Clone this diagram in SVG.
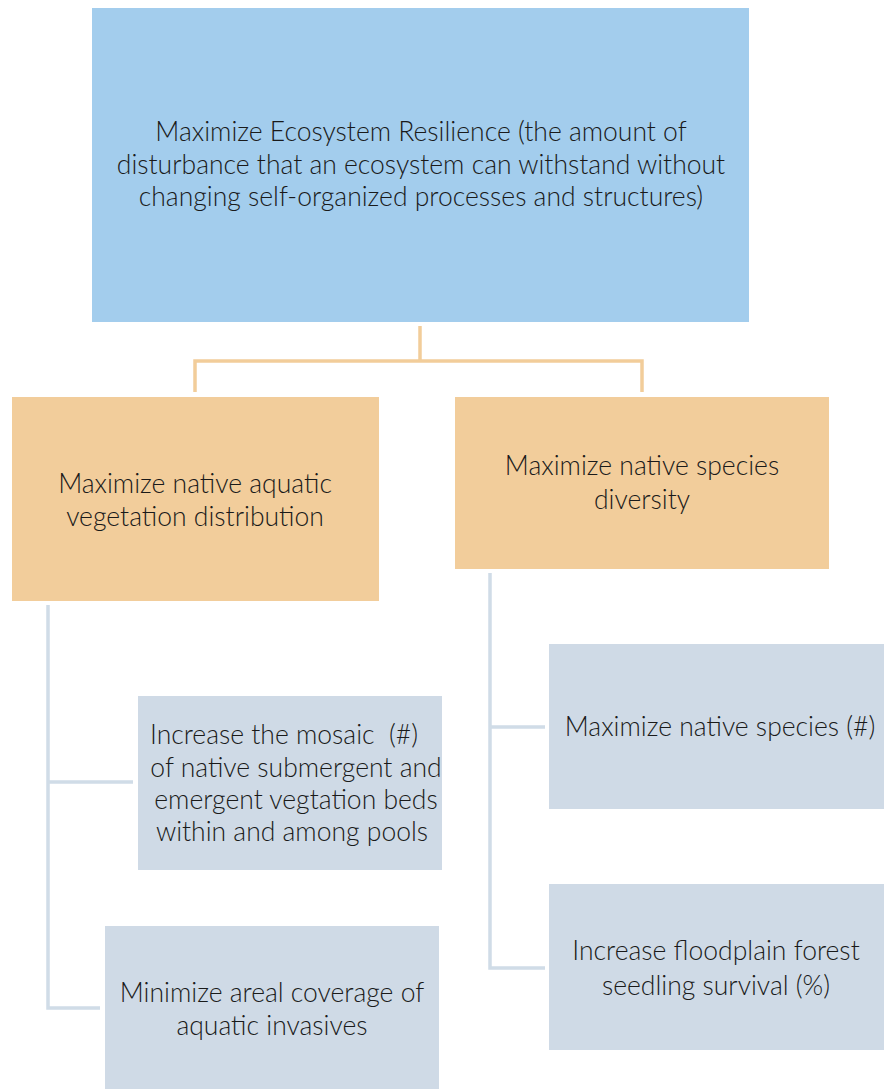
<svg xmlns="http://www.w3.org/2000/svg" width="884" height="1089" viewBox="0 0 884 1089">
<style>
.t{font-family:Lato,"Open Sans","Liberation Sans",sans-serif;font-size:26.5px;font-weight:300;fill:#1a1a1a;text-anchor:middle;white-space:pre}
.blue{fill:#A3CDED}
.org{fill:#F2CD9B}
.gry{fill:#CFDAE6}
.co{fill:none;stroke:#F2CD9A;stroke-width:3.5}
.cg{fill:none;stroke:#D0DCE7;stroke-width:3.5}
</style>
<rect width="884" height="1089" fill="#fff"/>
<g id="connectors">
<path class="co" d="M420,326V361M195,392V361H642V392"/>
<path class="cg" d="M48,605V1008H100M48,782H133"/>
<path class="cg" d="M490,573V968H545M490,727H545"/>
</g>
<g id="root">
<rect class="blue" x="92" y="8" width="657" height="314"/>
<text class="t" x="421" y="141">Maximize Ecosystem Resilience (the amount of</text>
<text class="t" x="421" y="174">disturbance that an ecosystem can withstand without</text>
<text class="t" x="421" y="206">changing self-organized processes and structures)</text>
</g>
<g id="veg">
<rect class="org" x="12" y="397" width="367" height="204"/>
<text class="t" x="195" y="493">Maximize native aquatic</text>
<text class="t" x="195" y="526">vegetation distribution</text>
</g>
<g id="div">
<rect class="org" x="455" y="397" width="374" height="172"/>
<text class="t" x="642" y="475">Maximize native species</text>
<text class="t" x="642" y="509">diversity</text>
</g>
<g id="mosaic">
<rect class="gry" x="138" y="696" width="304" height="174"/>
<text class="t" x="284" y="744">Increase the mosaic  (#)</text>
<text class="t" x="296" y="777">of native submergent and</text>
<text class="t" x="296" y="809">emergent vegtation beds</text>
<text class="t" x="292" y="841">within and among pools</text>
</g>
<g id="invasives">
<rect class="gry" x="105" y="926" width="334" height="163"/>
<text class="t" x="272" y="1002">Minimize areal coverage of</text>
<text class="t" x="272" y="1035">aquatic invasives</text>
</g>
<g id="species">
<rect class="gry" x="549" y="644" width="335" height="165"/>
<text class="t" x="720" y="736">Maximize native species (#)</text>
</g>
<g id="seedling">
<rect class="gry" x="549" y="884" width="335" height="166"/>
<text class="t" x="716" y="960">Increase floodplain forest</text>
<text class="t" x="716" y="995">seedling survival (%)</text>
</g>
</svg>
